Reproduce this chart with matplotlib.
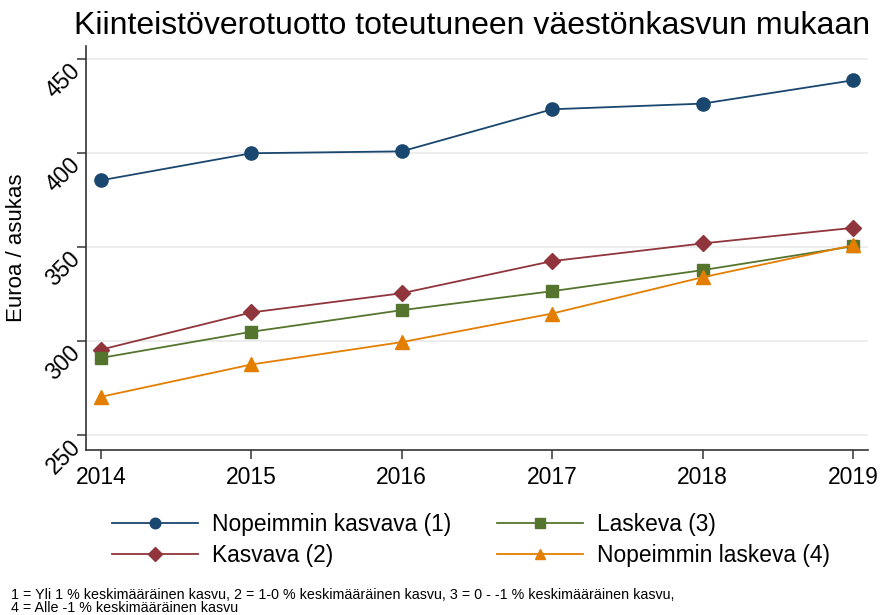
import numpy as np
import matplotlib
matplotlib.use("Agg")
import matplotlib.pyplot as plt

plt.rcParams['font.family'] = ['Liberation Sans', 'DejaVu Sans']

years = [2014, 2015, 2016, 2017, 2018, 2019]
nopeimmin_kasvava = [385.6, 400.0, 401.0, 423.4, 426.4, 438.8]
kasvava = [295.5, 315.3, 325.5, 342.6, 352.0, 360.3]
laskeva = [291.1, 305.0, 316.5, 326.6, 337.8, 350.5]
nopeimmin_laskeva = [270.4, 287.6, 299.5, 314.7, 334.0, 351.0]
y_ticks = [250, 300, 350, 400, 450]

series = [
    ("Nopeimmin kasvava (1)", nopeimmin_kasvava, "#1a476f", "o", 9.5),
    ("Kasvava (2)", kasvava, "#90353b", "D", 8.5),
    ("Laskeva (3)", laskeva, "#55752f", "s", 8.5),
    ("Nopeimmin laskeva (4)", nopeimmin_laskeva, "#e37e00", "^", 9.5),
]

fig = plt.figure(figsize=(8.8, 6.15), dpi=100)
ax = fig.add_axes([0.0977, 0.268, 0.8886, 0.657])

handles = []
for label, vals, col, mk, ms in series:
    h, = ax.plot(years, vals, color=col, marker=mk, markersize=ms, lw=1.3, label=label)
    handles.append(h)

ax.set_xlim(2013.9, 2019.1)
ax.set_ylim(242, 457)
ax.set_xticks(years)
ax.set_yticks(y_ticks)
ax.set_yticklabels([str(t) for t in y_ticks], rotation=45, va='top',
                   ha='right', rotation_mode='anchor')
ax.tick_params(axis='both', labelsize=16.5, length=6.5, color='#444444', width=1.2)
ax.tick_params(axis='y', pad=6)
ax.tick_params(axis='x', pad=5)
ax.grid(axis='y', color='#eaeaea', lw=1.2)
ax.set_axisbelow(True)
for s in ['top', 'right']:
    ax.spines[s].set_visible(False)
for s in ['left', 'bottom']:
    ax.spines[s].set_color('#333333')
    ax.spines[s].set_linewidth(1.2)
ax.set_ylabel("Euroa / asukas", fontsize=16)
ax.yaxis.set_label_coords(-0.075, 0.5)

fig.text(0.537, 0.958, "Kiinteistöverotuotto toteutuneen väestönkasvun mukaan",
         ha='center', va='center', fontsize=23)

fig.legend(handles=handles, ncol=2, loc='center', bbox_to_anchor=(0.535, 0.122),
           frameon=False, fontsize=16.4, handlelength=3.8, handletextpad=0.6,
           columnspacing=2.0, labelspacing=0.35, markerscale=0.8)

fig.text(0.013, 0.022,
         "1 = Yli 1 % keskimääräinen kasvu, 2 = 1-0 % keskimääräinen kasvu, 3 = 0 - -1 % keskimääräinen kasvu,\n"
         "4 = Alle -1 % keskimääräinen kasvu",
         fontsize=10.3, ha='left', va='center', linespacing=0.95)

fig.savefig("out.png", dpi=100)
